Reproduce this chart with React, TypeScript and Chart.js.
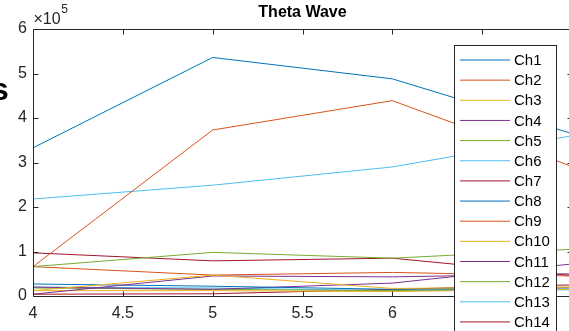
import React, { useEffect, useRef } from 'react';
import { Chart, registerables } from 'chart.js';

Chart.register(...registerables);

const xValues = [4, 5, 6, 7];
const xTicks = [4, 4.5, 5, 5.5, 6, 6.5, 7];
const yTicks = [0, 100000, 200000, 300000, 400000, 500000, 600000];
const channelLabels = ['Ch1', 'Ch2', 'Ch3', 'Ch4', 'Ch5', 'Ch6', 'Ch7', 'Ch8', 'Ch9', 'Ch10', 'Ch11', 'Ch12', 'Ch13', 'Ch14'];
const titleText = 'Theta Wave';

const ch1 = [333000, 536000, 488000, 365000];
const ch2 = [66000, 373000, 439000, 291000];
const ch3 = [12000, 47000, 17000, 20000];
const ch4 = [4000, 45000, 43000, 50000];
const ch5 = [66000, 98000, 85000, 105000];
const ch6 = [218000, 249000, 290000, 360000];
const ch7 = [97000, 79000, 85000, 46000];
const ch8 = [27000, 22000, 15000, 18000];
const ch9 = [66000, 47000, 53000, 45000];
const ch10 = [12000, 12000, 10000, 15000];
const ch11 = [20000, 15000, 29000, 72000];
const ch12 = [18000, 15000, 12000, 20000];
const ch13 = [20000, 18000, 12000, 14000];
const ch14 = [4000, 5000, 15000, 25000];

const seriesValues = [ch1, ch2, ch3, ch4, ch5, ch6, ch7, ch8, ch9, ch10, ch11, ch12, ch13, ch14];
const colorOrder = ['#0072BD', '#D95319', '#EDB120', '#7E2F8E', '#77AC30', '#4DBEEE', '#A2142F'];

const FONT = 'Arial, "Liberation Sans", Helvetica, sans-serif';
const AXIS = '#262626';

const framePlugin = {
  id: 'matlabFrame',
  afterDraw(chart: any) {
    const { ctx, chartArea } = chart;
    const { left, right, top, bottom } = chartArea;
    const xs = chart.scales.x;
    const ys = chart.scales.y;
    ctx.save();
    ctx.strokeStyle = AXIS;
    ctx.lineWidth = 1;
    const L = Math.round(left) + 0.5;
    const R = Math.round(right) + 0.5;
    const T = Math.round(top) + 0.5;
    const B = Math.round(bottom) + 0.5;
    ctx.beginPath();
    ctx.rect(L, T, R - L, B - T);
    ctx.stroke();
    const tl = 5;
    ctx.beginPath();
    xs.ticks.forEach((t: any) => {
      const px = Math.round(xs.getPixelForValue(t.value)) + 0.5;
      ctx.moveTo(px, B);
      ctx.lineTo(px, B - tl);
      ctx.moveTo(px, T);
      ctx.lineTo(px, T + tl);
    });
    ys.ticks.forEach((t: any) => {
      const py = Math.round(ys.getPixelForValue(t.value)) + 0.5;
      ctx.moveTo(L, py);
      ctx.lineTo(L + tl, py);
      ctx.moveTo(R, py);
      ctx.lineTo(R - tl, py);
    });
    ctx.stroke();

    // title centred over the axes
    ctx.fillStyle = '#000000';
    ctx.textAlign = 'center';
    ctx.textBaseline = 'middle';
    ctx.font = `bold 16px ${FONT}`;
    ctx.fillText(titleText, (left + right) / 2, 13);

    // exponent label
    ctx.fillStyle = AXIS;
    ctx.textBaseline = 'alphabetic';
    ctx.textAlign = 'left';
    ctx.font = `16px ${FONT}`;
    ctx.fillText('\u00d710', L, 24);
    const w = ctx.measureText('\u00d710').width;
    ctx.font = `12px ${FONT}`;
    ctx.fillText('5', L + w + 0.5, 13);

    // legend
    const lx = 454;
    const ly = 45;
    const lw = 102;
    const lh = 300;
    ctx.fillStyle = '#ffffff';
    ctx.fillRect(lx, ly, lw, lh);
    ctx.strokeStyle = AXIS;
    ctx.strokeRect(lx + 0.5, ly + 0.5, lw, lh);
    ctx.font = `15px ${FONT}`;
    ctx.textBaseline = 'middle';
    chart.data.datasets.forEach((ds: any, i: number) => {
      const yy = 60 + i * 20.15;
      ctx.strokeStyle = ds.borderColor;
      ctx.lineWidth = 1;
      ctx.beginPath();
      ctx.moveTo(460, yy);
      ctx.lineTo(510, yy);
      ctx.stroke();
      ctx.fillStyle = '#000000';
      ctx.fillText(ds.label, 514, yy + 1);
    });
    ctx.restore();
  },
};

export default function App() {
  const canvasRef = useRef<HTMLCanvasElement | null>(null);

  useEffect(() => {
    const canvas = canvasRef.current;
    if (!canvas) return;
    const datasets = seriesValues.map((vals, i) => ({
      label: channelLabels[i],
      data: vals.map((v, j) => ({ x: xValues[j], y: v })),
      borderColor: colorOrder[i % colorOrder.length],
      backgroundColor: colorOrder[i % colorOrder.length],
      borderWidth: 1,
      pointRadius: 0,
      tension: 0,
      fill: false,
    }));
    const chart = new Chart(canvas, {
      type: 'line',
      data: { datasets },
      options: {
        animation: false,
        responsive: false,
        devicePixelRatio: 1,
        layout: { padding: { top: 29, left: 0, right: 7, bottom: 0 } },
        plugins: {
          legend: { display: false },
          tooltip: { enabled: false },
          title: { display: false },
        },
        scales: {
          x: {
            type: 'linear',
            min: 4,
            max: 7,
            afterBuildTicks: (s: any) => {
              s.ticks = xTicks.map((v) => ({ value: v }));
            },
            afterFit: (s: any) => {
              s.height = 35;
            },
            grid: { display: false, drawTicks: false },
            border: { display: false },
            ticks: {
              autoSkip: false,
              maxRotation: 0,
              padding: 8,
              color: AXIS,
              font: { family: FONT, size: 16 },
              callback: (v: any) => (Number(v) >= 7 ? '' : String(v)),
            },
          },
          y: {
            type: 'linear',
            min: 0,
            max: 600000,
            afterBuildTicks: (s: any) => {
              s.ticks = yTicks.map((v) => ({ value: v }));
            },
            afterFit: (s: any) => {
              s.width = 33;
            },
            grid: { display: false, drawTicks: false },
            border: { display: false },
            ticks: {
              padding: 6,
              color: AXIS,
              font: { family: FONT, size: 16 },
              callback: (v: any) => String(Number(v) / 100000),
            },
          },
        },
      },
      plugins: [framePlugin],
    });
    return () => {
      chart.destroy();
    };
  }, []);

  return (
    <div
      style={{
        position: 'fixed',
        left: 0,
        top: 0,
        width: 569,
        height: 331,
        overflow: 'hidden',
        background: '#ffffff',
      }}
    >
      <canvas ref={canvasRef} width={580} height={331} style={{ width: 580, height: 331, display: 'block' }} />
      <div
        style={{
          position: 'absolute',
          left: -9,
          top: 73,
          fontFamily: FONT,
          fontWeight: 'bold',
          fontSize: 32,
          lineHeight: '32px',
          color: '#000000',
        }}
      >
        s
      </div>
    </div>
  );
}
